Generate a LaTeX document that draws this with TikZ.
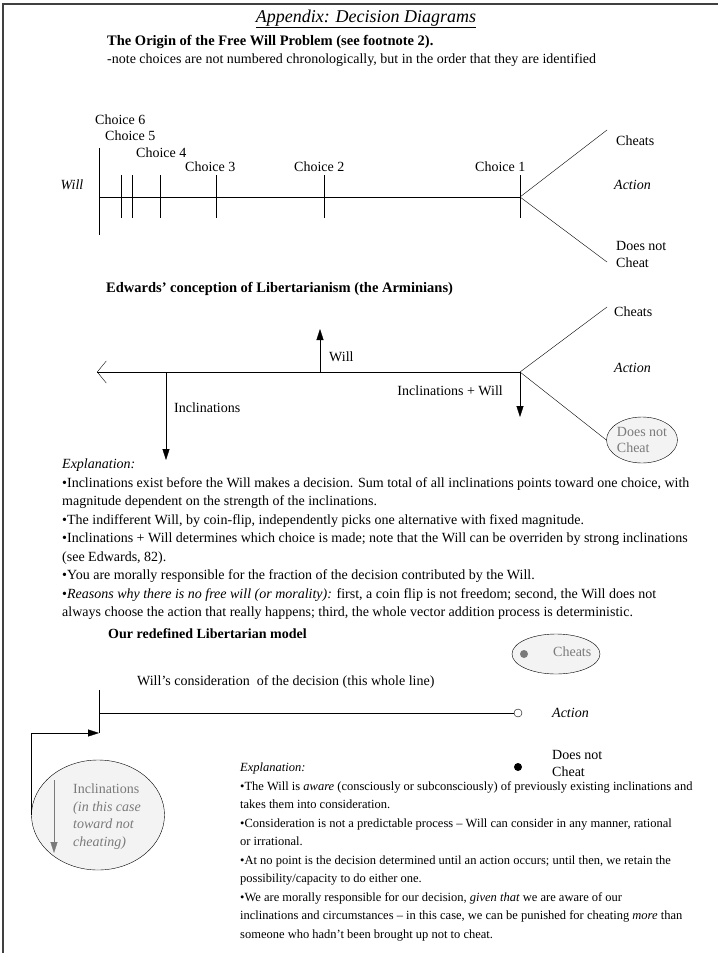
\documentclass[tikz,border=0pt]{standalone}
\usepackage{fontspec}
\setmainfont{Liberation Serif}
\usetikzlibrary{arrows.meta,shapes.geometric}
\definecolor{framegray}{HTML}{404040}
\definecolor{ellfill}{HTML}{F3F3F3}
\definecolor{faded}{HTML}{7A7A7A}
\tikzset{
  lbl/.style={inner sep=0pt, font=\fontsize{14}{16}\selectfont},
  ilbl/.style={lbl, font=\fontsize{14}{16}\selectfont\itshape},
  expl/.style={inner sep=0pt, anchor=north west, align=left, font=\fontsize{14}{18.5}\selectfont},
  head/.style={inner sep=0pt, anchor=west, font=\fontsize{14.5}{17}\selectfont\bfseries},
  force/.style={-{Triangle[length=11pt,width=7pt]}},
}
\begin{document}
\begin{tikzpicture}[x=1pt,y=-1pt]
	\useasboundingbox (0,0) rectangle (718,953);
	\fill[white] (0,0) rectangle (718,953);
	\draw[framegray, line width=1.6pt] (3,953) -- (3,4) -- (718,4);
	\node[lbl, font=\fontsize{18}{21}\selectfont\itshape] (title) at (366,19) {\underline{Appendix: Decision Diagrams}};
	\node[head] (origin) at (107,42) {The Origin of the Free Will Problem (see footnote 2).};
	\node[lbl, anchor=west] (note) at (107,60) {-note choices are not numbered chronologically, but in the order that they are identified};

	\coordinate (w0) at (99,197);
	\coordinate (c1) at (520,197);
	\draw (99,148) -- (99,235);
	\draw (w0) -- (c1);
	\foreach \x in {121,132,160,216,324,520}
		\draw (\x,175) -- (\x,218);
	\draw (c1) -- (607,130);
	\draw (c1) -- (607,262);
	\node[lbl, anchor=west] (ch6) at (95,120) {Choice 6};
	\node[lbl, anchor=west] (ch5) at (105,136) {Choice 5};
	\node[lbl, anchor=west] (ch4) at (136,153) {Choice 4};
	\node[lbl, anchor=west] (ch3) at (185,167) {Choice 3};
	\node[lbl, anchor=west] (ch2) at (294,167) {Choice 2};
	\node[lbl, anchor=west] (ch1) at (475,167) {Choice 1};
	\node[ilbl] (will) at (72,185) {Will};
	\node[lbl, anchor=west] (cheats) at (616,141) {Cheats};
	\node[ilbl, anchor=west] (action) at (614,185) {Action};
	\node[lbl, anchor=north west, align=left, font=\fontsize{14}{17}\selectfont] (dnc) at (616,241) {Does not\\Cheat};

	\node[head] (edwards) at (106,289) {Edwards' conception of Libertarianism (the Arminians)};
	\coordinate (e0) at (97,372);
	\coordinate (e1) at (520,372);
	\draw[-{Straight Barb[length=9pt,width=22pt]}] (e1) -- (e0);
	\draw[force] (320,372) -- (320,329);
	\node[lbl, anchor=west] (ewill) at (329,357) {Will};
	\draw[force] (166,372) -- (166,460);
	\node[lbl, anchor=west] (eincl) at (174,408) {Inclinations};
	\draw[force] (e1) -- (520,417);
	\node[lbl, anchor=east] (esum) at (503,391) {Inclinations + Will};
	\node[draw, ellipse, fill=ellfill, text=faded, inner sep=0pt, minimum width=70pt, minimum height=46pt, align=left, font=\fontsize{14}{16}\selectfont] (ednc) at (642,440) {Does not\\Cheat};
	\draw (e1) -- (607,307);
	\draw (e1) -- (ednc.west);
	\node[lbl, anchor=west] (echeats) at (614,312) {Cheats};
	\node[ilbl, anchor=west] (eaction) at (614,368) {Action};

	\node[expl] (expl1) at (62,459) {\textit{Explanation:}\\
•Inclinations exist before the Will makes a decision. Sum total of all inclinations points toward one choice, with\\
magnitude dependent on the strength of the inclinations.\\
•The indifferent Will, by coin-flip, independently picks one alternative with fixed magnitude.\\
•Inclinations + Will determines which choice is made; note that the Will can be overriden by strong inclinations\\
(see Edwards, 82).\\
•You are morally responsible for the fraction of the decision contributed by the Will.\\
•\textit{Reasons why there is no free will (or morality):} first, a coin flip is not freedom; second, the Will does not\\
always choose the action that really happens; third, the whole vector addition process is deterministic.};

	\node[head, font=\fontsize{14}{16}\selectfont\bfseries] (ours) at (108,634) {Our redefined Libertarian model};
	\node[draw, ellipse, fill=ellfill, minimum width=88pt, minimum height=40pt] (ocheats) at (556,654) {};
	\fill[faded] (524,654) circle (4pt);
	\node[lbl, anchor=west, text=faded] (ocheatst) at (553,652) {Cheats};
	\node[lbl, anchor=west] (consid) at (137,682) {Will's consideration\ \ of the decision (this whole line)};
	\coordinate (o0) at (99,713);
	\coordinate (o1) at (518,713);
	\draw (99,690) -- (99,733);
	\draw (o0) -- ([xshift=-4pt]o1);
	\draw (o1) circle (4pt);
	\node[ilbl, anchor=west] (oaction) at (552,713) {Action};
	\fill (518,767) circle (4pt);
	\node[lbl, anchor=north west, align=left, font=\fontsize{14}{17}\selectfont] (odnc) at (552,750) {Does not\\Cheat};
	\node[draw, ellipse, fill=ellfill, minimum width=133pt, minimum height=110pt] (oincl) at (98,815) {};
	\draw[faded, -{Triangle[length=11pt,width=7pt]}] (54,780) -- (54,853);
	\node[expl, text=faded, font=\fontsize{14}{17.5}\selectfont] (oinclt) at (73,784) {Inclinations\\\textit{(in this case}\\\textit{toward not}\\\textit{cheating)}};
	\draw[force] (oincl.west) |- (99,733);

	\node[expl, font=\fontsize{12.5}{18.5}\selectfont] (expl2) at (240,763) {\textit{Explanation:}\\
•The Will is \textit{aware} (consciously or subconsciously) of previously existing inclinations and\\
takes them into consideration.\\
•Consideration is not a predictable process – Will can consider in any manner, rational\\
or irrational.\\
•At no point is the decision determined until an action occurs; until then, we retain the\\
possibility/capacity to do either one.\\
•We are morally responsible for our decision, \textit{given that} we are aware of our\\
inclinations and circumstances – in this case, we can be punished for cheating \textit{more} than\\
someone who hadn’t been brought up not to cheat.};
\end{tikzpicture}
\end{document}
